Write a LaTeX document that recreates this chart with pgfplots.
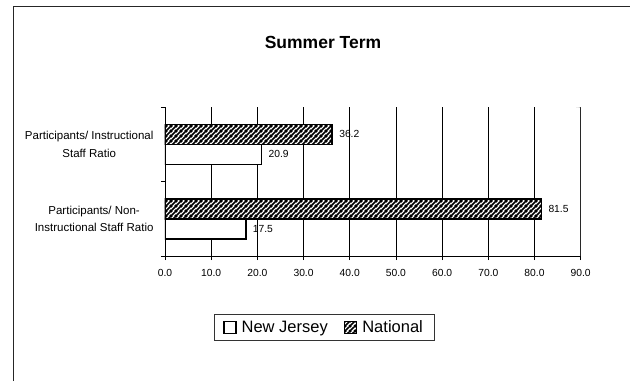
\documentclass[border=0pt]{standalone}
\usepackage{pgfplots}
\pgfplotsset{compat=1.18}
\usepackage{fontspec}
\setmainfont{Liberation Sans}
\usetikzlibrary{patterns.meta}
\tikzdeclarepattern{
  name=hatch,
  type=uncolored,
  bounding box={(0pt,0pt) and (4.6pt,4.6pt)},
  tile size={(4.6pt,4.6pt)},
  code={
    \draw[line width=1.6pt] (-1pt,-1pt) -- (5.6pt,5.6pt);
    \draw[line width=1.6pt] (-1.5pt,3.1pt) -- (1.5pt,6.1pt);
    \draw[line width=1.6pt] (3.1pt,-1.5pt) -- (6.1pt,1.5pt);
  }
}
\begin{document}
\begin{tikzpicture}
\path[use as bounding box] (0pt,0pt) rectangle (630pt,381pt);
\draw[line width=0.8pt, black!85] (13pt,0pt) -- (13pt,375pt) -- (630pt,375pt);
\begin{axis}[
  at={(165pt,125pt)}, anchor=south west,
  scale only axis, width=415.7pt, height=149pt,
  xbar, bar width=20pt,
  xmin=0, xmax=90, ymin=-0.5, ymax=1.5,
  axis x line*=bottom, axis y line*=left,
  axis line style={-, black, line width=0.8pt},
  xtick={0,10,...,90},
  xmajorgrids, major grid style={black, line width=0.6pt},
  tick align=outside, major tick length=4pt,
  tick style={black, line width=0.8pt},
  /pgf/number format/assume math mode=true,
  xticklabel style={yshift=-6pt, font=\fontsize{10.3}{12}\selectfont, /pgf/number format/.cd, fixed, fixed zerofill, precision=1},
  ytick={-0.5,0.5,1.5}, yticklabels={{},{},{}},
  extra y ticks={0,1},
  extra y tick labels={{Participants/ Non-\\Instructional Staff Ratio},{Participants/ Instructional\\Staff Ratio}},
  extra y tick style={tick style={draw=none}, yticklabel style={align=center, xshift=-4pt, font=\fontsize{11.5}{17.5}\selectfont}},
  nodes near coords,
  every node near coord/.append style={font=\fontsize{10.3}{12}\selectfont, anchor=west, xshift=3pt, black,
    /pgf/number format/.cd, fixed, fixed zerofill, precision=1},
  legend columns=2,
  legend style={at={(axis description cs:0.3825,-0.48)}, anchor=center, draw=black!80, line width=0.6pt,
    font=\fontsize{16.5}{19}\selectfont, inner xsep=9pt, inner ysep=4pt,
    /tikz/every even column/.append style={column sep=14pt}},
  legend image code/.code={\draw[#1, line width=1.5pt] (0pt,-6pt) rectangle (12pt,6pt); \path (15pt,0pt);},
]
\addplot[draw=black, line width=1.5pt, fill=white, bar shift=-10pt] coordinates {(17.5,0) (20.9,1)};
\addplot[draw=black, line width=1.5pt, preaction={fill=white}, preaction={pattern=hatch, pattern color=black}, bar shift=10pt] coordinates {(81.5,0) (36.2,1)};
\legend{New Jersey, National}
\draw[black!55, line width=0.8pt] (rel axis cs:0,1) ++(-5pt,0) -- (rel axis cs:1,1) -- (rel axis cs:1,0);
\end{axis}
\node[font=\fontsize{17.5}{20}\selectfont\bfseries] at (323pt,339pt) {Summer Term};
\end{tikzpicture}
\end{document}
